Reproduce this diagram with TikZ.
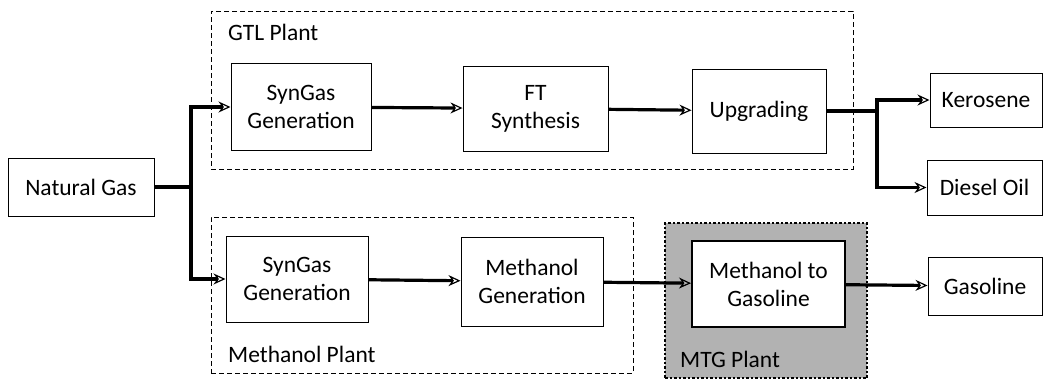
\documentclass[tikz,border=0pt]{standalone}
\usepackage{fontspec}
\setmainfont{Carlito}
\usetikzlibrary{arrows.meta,positioning,calc}
\begin{document}
\begin{tikzpicture}[x=1pt,y=-1pt,
  box/.style={draw,line width=1pt,fill=white,align=center,inner sep=0pt,
    font=\fontsize{23.5}{28}\selectfont},
  plant/.style={draw,line width=0.9pt,dash pattern=on 5pt off 3pt},
  mtgplant/.style={draw,line width=2.8pt,dash pattern=on 2.5pt off 2pt,fill=gray!60},
  lbl/.style={anchor=base west,inner sep=0pt,font=\fontsize{23.5}{28}\selectfont},
  flow/.style={line width=3.2pt,-{Stealth[open,length=12pt,width=11pt,line width=1.2pt]}},
  trunk/.style={line width=3.2pt}]
\useasboundingbox (0,0) rectangle (1046,381);
% plant frames
\node[plant,minimum width=642pt,minimum height=158pt,inner sep=0pt] (gtl) at (532,90) {};
\node[plant,minimum width=422pt,minimum height=156pt,inner sep=0pt] (mp) at (422,295) {};
\node[mtgplant,minimum width=202pt,minimum height=155pt,inner sep=0pt] (mtgp) at (766,300.5) {};
\node[lbl] (gtllbl) at (228,40) {GTL Plant};
\node[lbl] (mplbl) at (228,362) {Methanol Plant};
\node[lbl] (mtglbl) at (680,367) {MTG Plant};
% process boxes
\node[box,minimum width=146pt,minimum height=58pt] (ng) at (81,187) {Natural Gas};
\node[box,minimum width=140pt,minimum height=87pt] (sg1) at (301,107) {SynGas\\Generation};
\node[box,minimum width=145pt,minimum height=85pt] (ft) at (535.5,108.5) {FT\\Synthesis};
\node[box,minimum width=134pt,minimum height=84pt] (up) at (759,111) {Upgrading};
\node[box,minimum width=112pt,minimum height=54pt] (ke) at (986,100) {Kerosene};
\node[box,minimum width=115pt,minimum height=55pt] (do) at (984.5,187.5) {Diesel Oil};
\node[box,minimum width=142pt,minimum height=86pt] (sg2) at (297,279) {SynGas\\Generation};
\node[box,minimum width=142pt,minimum height=89pt] (mg) at (532,281.5) {Methanol\\Generation};
\node[box,line width=2pt,minimum width=153pt,minimum height=86pt] (mtg) at (768.5,284) {Methanol to\\Gasoline};
\node[box,minimum width=114pt,minimum height=58pt] (ga) at (985,286) {Gasoline};
% connectors
\coordinate (s1) at (191,187);
\coordinate (s2) at (877,111);
\draw[trunk] (ng.east) -- (s1);
\draw[flow] (s1) |- (sg1.west);
\draw[flow] (s1) |- (sg2.west);
\draw[flow] (sg1) -- (ft);
\draw[flow] (ft) -- (up);
\draw[trunk] (up.east) -- (s2);
\draw[flow] (s2) |- (ke.west);
\draw[flow] (s2) |- (do.west);
\draw[flow] (sg2) -- (mg);
\draw[flow] (mg) -- (mtg);
\draw[flow] (mtg) -- (ga);
\end{tikzpicture}
\end{document}
